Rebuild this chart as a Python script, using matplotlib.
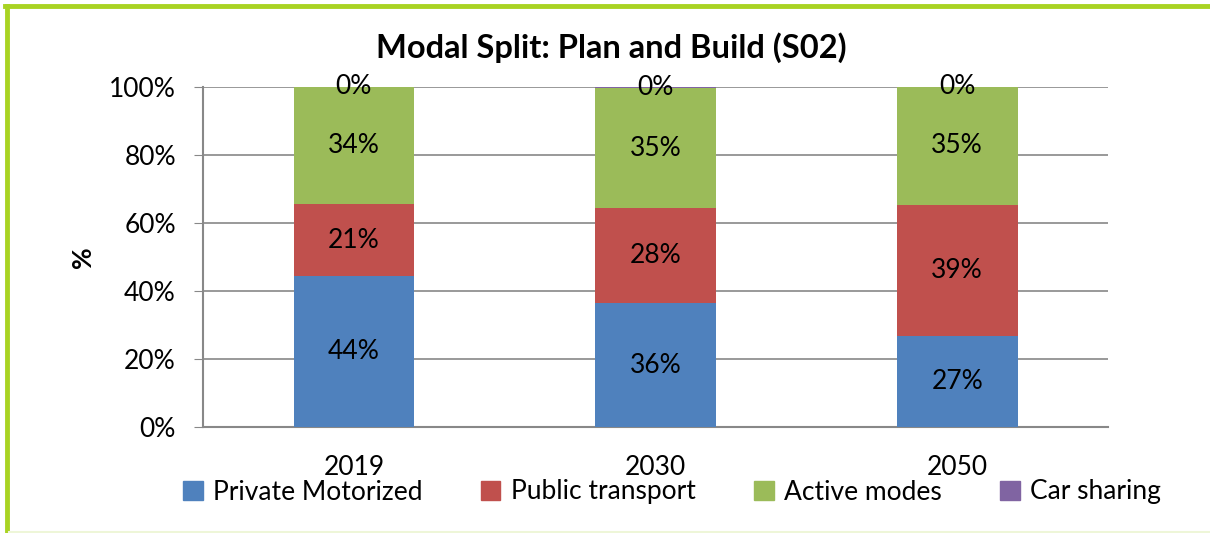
import numpy as np
import matplotlib.pyplot as plt
from matplotlib.lines import Line2D
from matplotlib.patches import Patch

plt.rcParams['font.family'] = ['Lato', 'DejaVu Sans']

years = ['2019', '2030', '2050']
private = [44.4, 36.4, 26.7]
public = [21.2, 28.0, 38.6]
active = [34.4, 35.3, 34.7]
sharing = [0.0, 0.3, 0.0]

series = [private, public, active, sharing]
names = ['Private Motorized', 'Public transport', 'Active modes', 'Car sharing']
colors = ['#4f81bd', '#c0504d', '#9bbb59', '#8064a2']

fs = 19

fig = plt.figure(figsize=(12.1, 5.33), dpi=100)
ax = fig.add_axes([203/1210, 1 - 427/533, 905/1210, 340/533])

x = np.arange(len(years))
bottom = np.zeros(len(years))
for vals, name, c in zip(series, names, colors):
    vals = np.array(vals)
    ax.bar(x, vals, 0.4, bottom=bottom, color=c, label=name, zorder=3)
    for xi, b, v in zip(x, bottom, vals):
        ax.text(xi, b + v / 2, '%d%%' % round(v), ha='center', va='center',
                fontsize=fs, zorder=4)
    bottom = bottom + vals

ax.set_xlim(-0.5, 2.5)
ax.set_ylim(0, 100)
ax.set_yticks(range(0, 101, 20))
ax.set_yticklabels(['%d%%' % v for v in range(0, 101, 20)], fontsize=fs)
ax.set_xticks(x)
ax.set_xticklabels(years, fontsize=fs)
ax.tick_params(axis='x', length=0, pad=20)
ax.tick_params(axis='y', length=6.5, color='#888888', pad=13)
ax.grid(axis='y', color='#888888', lw=1.2, zorder=0)
for s in ['top', 'right']:
    ax.spines[s].set_visible(False)
for s in ['left', 'bottom']:
    ax.spines[s].set_color('#888888')
    ax.spines[s].set_linewidth(1.5)

ax.set_ylabel('%', fontsize=fs, fontweight='bold', labelpad=10)
fig.text(611/1210, 1 - 48/533, 'Modal Split: Plan and Build (S02)', ha='center',
         va='center', fontsize=23.5, fontweight='bold')

handles = [Patch(color=c) for c in colors]
fig.legend(handles, names, loc='center', bbox_to_anchor=(672/1210, 1 - 492/533),
           ncol=4, frameon=False, fontsize=fs, handlelength=0.75, handleheight=0.75,
           handletextpad=0.4, columnspacing=2.2)

# green frame
fig.add_artist(Line2D([7/1210, 7/1210], [0, 1 - 6/533], color='#a9d323', lw=3.5,
                      transform=fig.transFigure))
fig.add_artist(Line2D([5/1210, 1], [1 - 6/533, 1 - 6/533], color='#a9d323', lw=3.5,
                      transform=fig.transFigure))
fig.add_artist(Line2D([9/1210, 1], [1/533, 1/533], color='#eef6d8', lw=1.5,
                      transform=fig.transFigure))

fig.savefig('out.png', dpi=100)
